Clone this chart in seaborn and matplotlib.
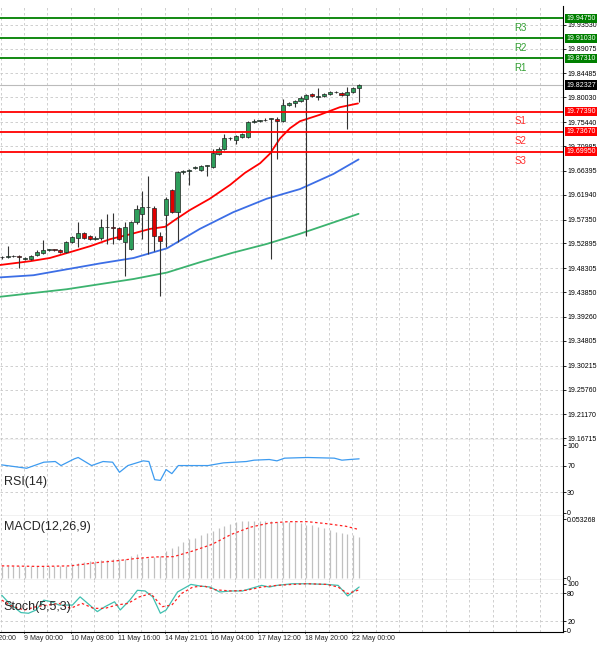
import matplotlib
matplotlib.use("Agg")
import matplotlib.pyplot as plt
import seaborn as sns
import numpy as np
import pandas as pd

sns.set_theme(style="white")
plt.rcParams["font.family"] = "Liberation Sans"

# ---- candles (open, close, high, low) ----
opens  = [19.503,19.504,19.505,19.505,19.500,19.500,19.507,19.511,19.517,19.518,19.517,19.514,19.531,19.540,19.548,19.542,19.537,19.539,19.559,19.559,19.558,19.532,19.519,19.568,19.584,19.596,19.594,19.543,19.581,19.629,19.588,19.662,19.664,19.670,19.666,19.673,19.671,19.696,19.705,19.724,19.721,19.727,19.727,19.754,19.757,19.758,19.760,19.761,19.756,19.786,19.789,19.794,19.797,19.806,19.801,19.803,19.806,19.811,19.809,19.805,19.811,19.817]
closes = [19.504,19.505,19.505,19.503,19.501,19.506,19.514,19.517,19.518,19.517,19.514,19.532,19.541,19.548,19.540,19.537,19.540,19.559,19.559,19.558,19.537,19.560,19.568,19.593,19.596,19.596,19.543,19.534,19.611,19.588,19.662,19.663,19.666,19.670,19.672,19.673,19.697,19.705,19.724,19.724,19.729,19.733,19.755,19.757,19.757,19.758,19.760,19.756,19.787,19.790,19.793,19.800,19.805,19.803,19.803,19.806,19.810,19.810,19.805,19.811,19.817,19.823]
highs  = [19.506,19.525,19.507,19.507,19.503,19.508,19.516,19.535,19.519,19.519,19.518,19.534,19.543,19.568,19.550,19.544,19.542,19.575,19.584,19.586,19.560,19.568,19.570,19.600,19.627,19.655,19.599,19.550,19.615,19.631,19.664,19.666,19.668,19.672,19.674,19.675,19.705,19.708,19.733,19.727,19.731,19.735,19.757,19.760,19.759,19.762,19.762,19.763,19.797,19.792,19.795,19.802,19.807,19.808,19.817,19.808,19.812,19.812,19.811,19.820,19.819,19.826]
lows   = [19.501,19.502,19.503,19.484,19.498,19.498,19.505,19.509,19.515,19.515,19.512,19.512,19.529,19.522,19.538,19.535,19.535,19.535,19.528,19.528,19.535,19.469,19.517,19.566,19.537,19.509,19.515,19.432,19.522,19.585,19.531,19.658,19.637,19.668,19.664,19.654,19.669,19.694,19.703,19.722,19.714,19.725,19.725,19.752,19.755,19.756,19.500,19.686,19.754,19.784,19.783,19.792,19.543,19.801,19.795,19.801,19.804,19.808,19.803,19.741,19.809,19.792]

# ---- moving averages (candle index, price) ----
ma_red_x = [-0.3,4.8,8.2,11.7,15.1,18.5,21.9,25.3,27.9,29.6,32.1,35.5,39.0,41.5,44.1,45.8,47.5,49.2,50.9,54.3,57.7,60.8]
ma_red_y = [19.489,19.496,19.502,19.513,19.524,19.537,19.546,19.556,19.560,19.573,19.591,19.612,19.638,19.660,19.678,19.696,19.724,19.743,19.756,19.768,19.782,19.789]
ma_blue_x = [-0.3,5.4,11.1,16.8,22.5,28.2,33.8,39.5,45.2,50.9,56.6,60.9]
ma_blue_y = [19.466,19.470,19.481,19.492,19.502,19.520,19.556,19.587,19.612,19.630,19.658,19.685]
ma_green_x = [-0.3,11.1,22.5,28.2,33.8,39.5,45.2,50.9,56.6,60.9]
ma_green_y = [19.430,19.444,19.463,19.475,19.494,19.512,19.528,19.547,19.568,19.584]

# ---- pivot levels ----
level_names = ["R3","R2","R1","S1","S2","S3"]
level_vals  = [19.94750,19.91030,19.87310,19.77390,19.73670,19.69950]
current_price = 19.82327
price_ticks = [19.93530,19.89075,19.84485,19.80030,19.75440,19.70985,19.66395,19.61940,19.57350,
               19.52895,19.48305,19.43850,19.39260,19.34805,19.30215,19.25760,19.21170,19.16715]

# ---- RSI (zoom-x units, value) ----
rsi_zx = [0,65,110,140,155,190,200,235,265,290,308,330,370,385,400,415,430,445,462,540,580,640,660,700,720,740,800,870,890,910,935]
rsi_v  = [71,66,75,76,70,80,82,70,76,75,60,70,77,76,49,48,64,58,70,70,74,76,78,79,77,81,82,81,78,79,80]

# ---- MACD ----
macd_hist = [0.0112,0.0112,0.0110,0.0108,0.0107,0.0107,0.0107,0.0107,0.0108,0.0110,0.0112,0.0112,0.0125,0.0136,0.0145,0.0152,0.0157,0.0162,0.0166,0.0170,0.0175,0.0178,0.0200,0.0216,0.0195,0.0187,0.0190,0.0200,0.0246,0.0270,0.0290,0.0330,0.0349,0.0364,0.0385,0.0405,0.0423,0.0453,0.0474,0.0488,0.0503,0.0512,0.0512,0.0512,0.0512,0.0512,0.0511,0.0510,0.0509,0.0509,0.0509,0.0495,0.0482,0.0475,0.0462,0.0450,0.0438,0.0420,0.0408,0.0394,0.0385,0.0373]
macd_sig_zx = [0,100,180,250,300,350,400,450,500,550,600,650,700,750,800,850,900,935]
macd_sig_v  = [0.0112,0.0107,0.0112,0.0142,0.0157,0.0178,0.0192,0.0195,0.0246,0.0305,0.0394,0.0459,0.0497,0.0509,0.0509,0.0491,0.0468,0.0438]

# ---- Stochastic ----
st_main_zx = [0,20,50,70,90,110,130,150,185,205,230,250,270,295,310,335,355,375,395,415,430,460,495,520,545,570,600,630,650,680,700,720,760,800,850,880,905,935]
st_main_v  = [75.5,58,38.5,37,44,65,61.5,54.5,54.5,72,54.5,40.5,51,61.5,44,65,86,84.6,72,37,44,82.5,98.6,95,93,82.5,84.6,84.6,89.5,96.5,93,96.5,100,100,98.6,96.5,74,93]
st_sig_zx = [0,30,60,90,120,150,180,210,240,270,300,330,360,390,420,445,470,500,530,560,600,640,680,720,760,800,850,880,905,935]
st_sig_v  = [65,51,44,51,54.5,58,47.5,58,47.5,47.5,54.5,58,72,79,51,54.5,79,93,95,87,84.6,86,93,96.5,98.6,100,98.6,93,79,87]

time_labels = ["8 May 20:00","9 May 00:00","10 May 08:00","11 May 16:00","14 May 21:01",
               "16 May 04:00","17 May 12:00","18 May 20:00","22 May 00:00"]

ZX = 61/935.0
XL = (-0.3, 95.8)
FS = 5.0

fig = plt.figure(figsize=(6.0, 6.51), dpi=100)
W = 563/600
def frac(top, bot):
    return [0, 1-bot/651, W, (bot-top)/651]
ax = fig.add_axes(frac(6, 440))
ax_rsi = fig.add_axes(frac(440, 516))
ax_macd = fig.add_axes(frac(516, 580))
ax_st = fig.add_axes(frac(580, 632))

grid_kw = dict(color="#c8c8c8", linestyle=(0, (3, 3)), linewidth=0.6)
vgrid = np.arange(-0.2, 96, 4)
for a in [ax, ax_rsi, ax_macd, ax_st]:
    a.set_xlim(*XL)
    for v in vgrid:
        a.axvline(v, zorder=0, **grid_kw)
    a.yaxis.tick_right()
    a.tick_params(axis="y", labelsize=FS, length=2, pad=1, colors="black", width=0.6)
    a.tick_params(axis="x", length=0)
    a.set_xticks([])
    for s in a.spines.values():
        s.set_color("black"); s.set_linewidth(0.8)
    a.spines["left"].set_visible(False)
    a.spines["top"].set_visible(False)
    a.set_facecolor("white")

# main
ax.set_ylim(19.164, 19.970)
ax.set_yticks(price_ticks)
ax.set_yticklabels([f"{v:.5f}" for v in price_ticks])
for v in price_ticks:
    ax.axhline(v, zorder=0, **grid_kw)

idx = np.arange(len(opens))
o = np.array(opens); c = np.array(closes)
ax.vlines(idx, lows, highs, color="#333333", linewidth=0.8, zorder=3)
bcol = np.where(c >= o, "#2e9e5b", "#e00000")
bh = np.abs(c - o); bh = np.maximum(bh, 0.0012)
ax.bar(idx, bh, bottom=np.minimum(o, c), width=0.7, color=bcol, edgecolor="#222222", linewidth=0.5, zorder=4)

sns.lineplot(x=ma_red_x, y=ma_red_y, ax=ax, color="#ff0000", linewidth=1.3, zorder=2)
sns.lineplot(x=ma_blue_x, y=ma_blue_y, ax=ax, color="#3c6ee6", linewidth=1.3, zorder=2)
sns.lineplot(x=ma_green_x, y=ma_green_y, ax=ax, color="#3cb36f", linewidth=1.3, zorder=2)

ax.axhline(current_price, color="#bbbbbb", linewidth=0.8, zorder=1)
for name, v in zip(level_names, level_vals):
    col = "#008000" if name.startswith("R") else "#ff0000"
    ax.axhline(v, color=col, linewidth=1.3, zorder=5)
    ax.text(1.006, v, f"{v:.5f}", transform=ax.get_yaxis_transform(), fontsize=FS, color="white",
            va="center", ha="left", bbox=dict(boxstyle="square,pad=0.15", fc=col, ec="none"), zorder=10, clip_on=False)
    ax.text(88.5, v - 0.0175, name, fontsize=7, color="#33a033" if name.startswith("R") else "#ff3030",
            ha="center", va="center")
ax.text(1.006, current_price, f"{current_price:.5f}", transform=ax.get_yaxis_transform(), fontsize=FS,
        color="white", va="center", ha="left", bbox=dict(boxstyle="square,pad=0.15", fc="black", ec="none"),
        zorder=10, clip_on=False)

# RSI
ax_rsi.set_ylim(-5, 108)
ax_rsi.set_yticks([100, 70, 30, 0])
for v in [70, 30]:
    ax_rsi.axhline(v, zorder=0, **grid_kw)
sns.lineplot(x=np.array(rsi_zx) * ZX, y=rsi_v, ax=ax_rsi, color="#3d9bf0", linewidth=0.9)
ax_rsi.text(0.3, 45, "RSI(14)", fontsize=9, va="center")

# MACD
ax_macd.set_ylim(-0.0015, 0.0560)
ax_macd.set_yticks([0.053268, 0])
ax_macd.set_yticklabels(["0.053268", "0"])
ax_macd.vlines(idx, 0, macd_hist, color="#c0c0c0", linewidth=0.9, zorder=2)
sns.lineplot(x=np.array(macd_sig_zx) * ZX, y=macd_sig_v, ax=ax_macd, color="#ff2020",
             linewidth=0.9, linestyle=(0, (2, 2)), zorder=3)
ax_macd.text(0.3, 0.046, "MACD(12,26,9)", fontsize=9, va="center")

# Stoch
ax_st.set_ylim(-3, 108)
ax_st.set_yticks([100, 80, 20, 0])
for v in [80, 20]:
    ax_st.axhline(v, zorder=0, **grid_kw)
sns.lineplot(x=np.array(st_main_zx) * ZX, y=st_main_v, ax=ax_st, color="#40c0b0", linewidth=0.9)
sns.lineplot(x=np.array(st_sig_zx) * ZX, y=st_sig_v, ax=ax_st, color="#ff2020", linewidth=0.9,
             linestyle=(0, (2, 2)))
ax_st.text(0.3, 50, "Stoch(5,5,3)", fontsize=9, va="center")

# time labels
for k, lab in enumerate(time_labels):
    xpos = -4.2 + 8 * k
    ax_st.text(xpos, -10, lab, fontsize=FS, ha="left", va="top", clip_on=False)
    ax_st.plot([xpos, xpos], [-3, -6], color="black", linewidth=0.6, clip_on=False)

for a in [ax, ax_rsi, ax_macd, ax_st]:
    a.set_xlabel(""); a.set_ylabel("")
    if a.get_legend():
        a.get_legend().remove()

fig.savefig("out.png", dpi=100, facecolor="white")
